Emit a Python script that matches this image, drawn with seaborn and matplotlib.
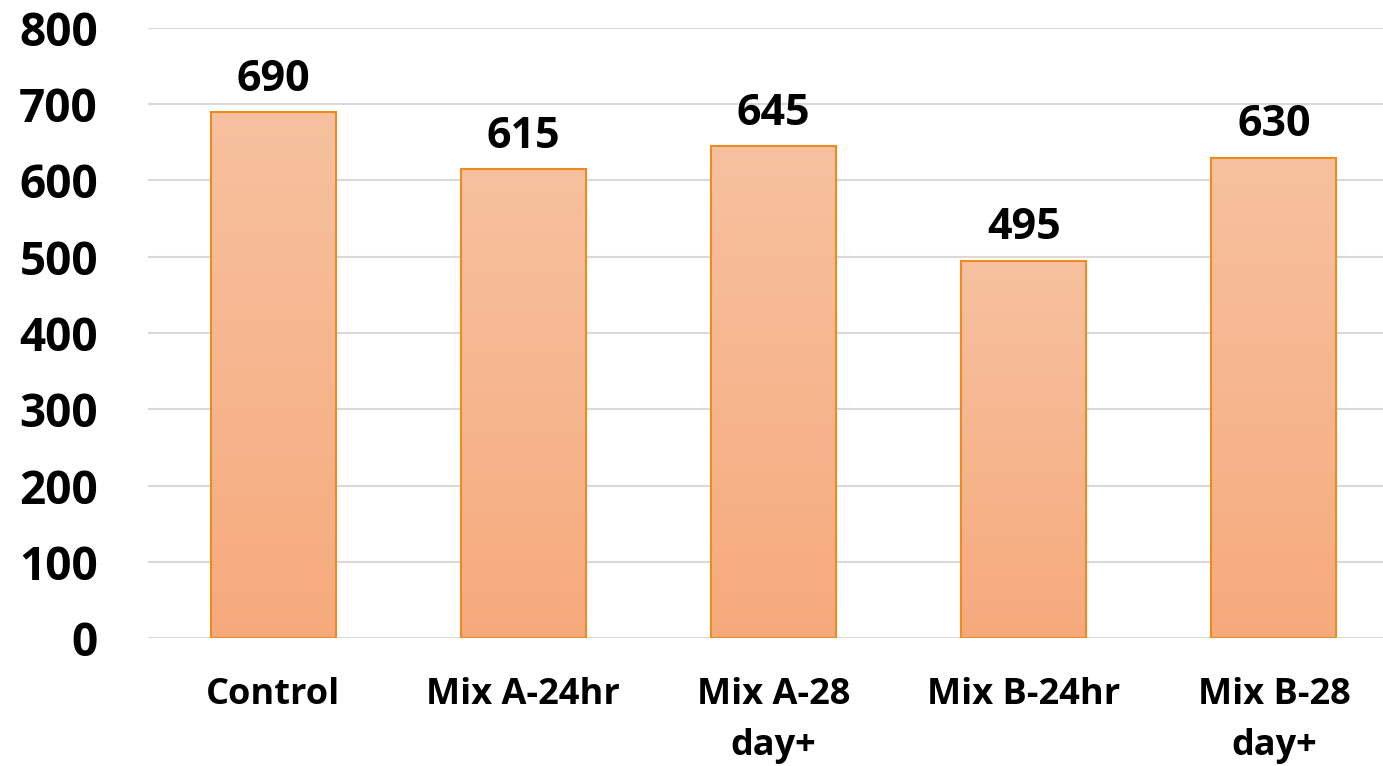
import numpy as np
import pandas as pd
import matplotlib
matplotlib.use("Agg")
import matplotlib.pyplot as plt
import seaborn as sns
from matplotlib.colors import LinearSegmentedColormap

categories = ["Control", "Mix A-24hr", "Mix A-28\nday+", "Mix B-24hr", "Mix B-28\nday+"]
values = [690, 615, 645, 495, 630]
yticks = [0, 100, 200, 300, 400, 500, 600, 700, 800]

sns.set_theme(style="white")
plt.rcParams['font.family'] = ['Open Sans', 'DejaVu Sans']
plt.rcParams['font.weight'] = 'bold'
plt.rcParams['text.color'] = 'black'

fig = plt.figure(figsize=(13.83, 7.66), dpi=100)
ax = fig.add_axes([148/1383, 1 - 638/766, (1383-148)/1383, (638-28)/766])

df = pd.DataFrame({"cat": categories, "val": values})
sns.barplot(data=df, x="cat", y="val", ax=ax, width=0.5, color="#F7B894",
            edgecolor="#ED8B1E", linewidth=1.5, zorder=3)

cmap = LinearSegmentedColormap.from_list("g", ["#F6AA7C", "#F7C19F"])
grad = np.linspace(0, 1, 256).reshape(-1, 1)
for p in ax.patches:
    x0, y0 = p.get_x(), p.get_y()
    w, h = p.get_width(), p.get_height()
    im = ax.imshow(grad, cmap=cmap, origin="lower", aspect="auto",
                   extent=[x0, x0 + w, y0, y0 + h], zorder=3.5)
    im.set_clip_path(p)
    p.set_facecolor("none")
    p.set_zorder(4)

for i, v in enumerate(values):
    ax.text(i, v + 28, str(v), ha="center", va="baseline", fontsize=31,
            fontweight="bold", color="black")

ax.set_xlim(-0.5, 4.436)
ax.set_ylim(0, 800)
ax.set_yticks(yticks)
ax.set_yticklabels([str(t) for t in yticks], fontsize=33, fontweight="bold", color="black")
ax.set_xticks(range(len(categories)))
ax.set_xticklabels(categories, fontsize=26, fontweight="bold", linespacing=1.55, color="black")
ax.tick_params(axis="y", length=0, pad=36)
ax.tick_params(axis="x", length=0, pad=28)
for lab in ax.get_yticklabels():
    lab.set_horizontalalignment("right")
ax.yaxis.grid(True, color="#D9D9D9", linewidth=1.5, zorder=0)
ax.set_axisbelow(True)
for s in ax.spines.values():
    s.set_visible(False)
ax.set_xlabel("")
ax.set_ylabel("")

fig.savefig("out.png", dpi=100)
